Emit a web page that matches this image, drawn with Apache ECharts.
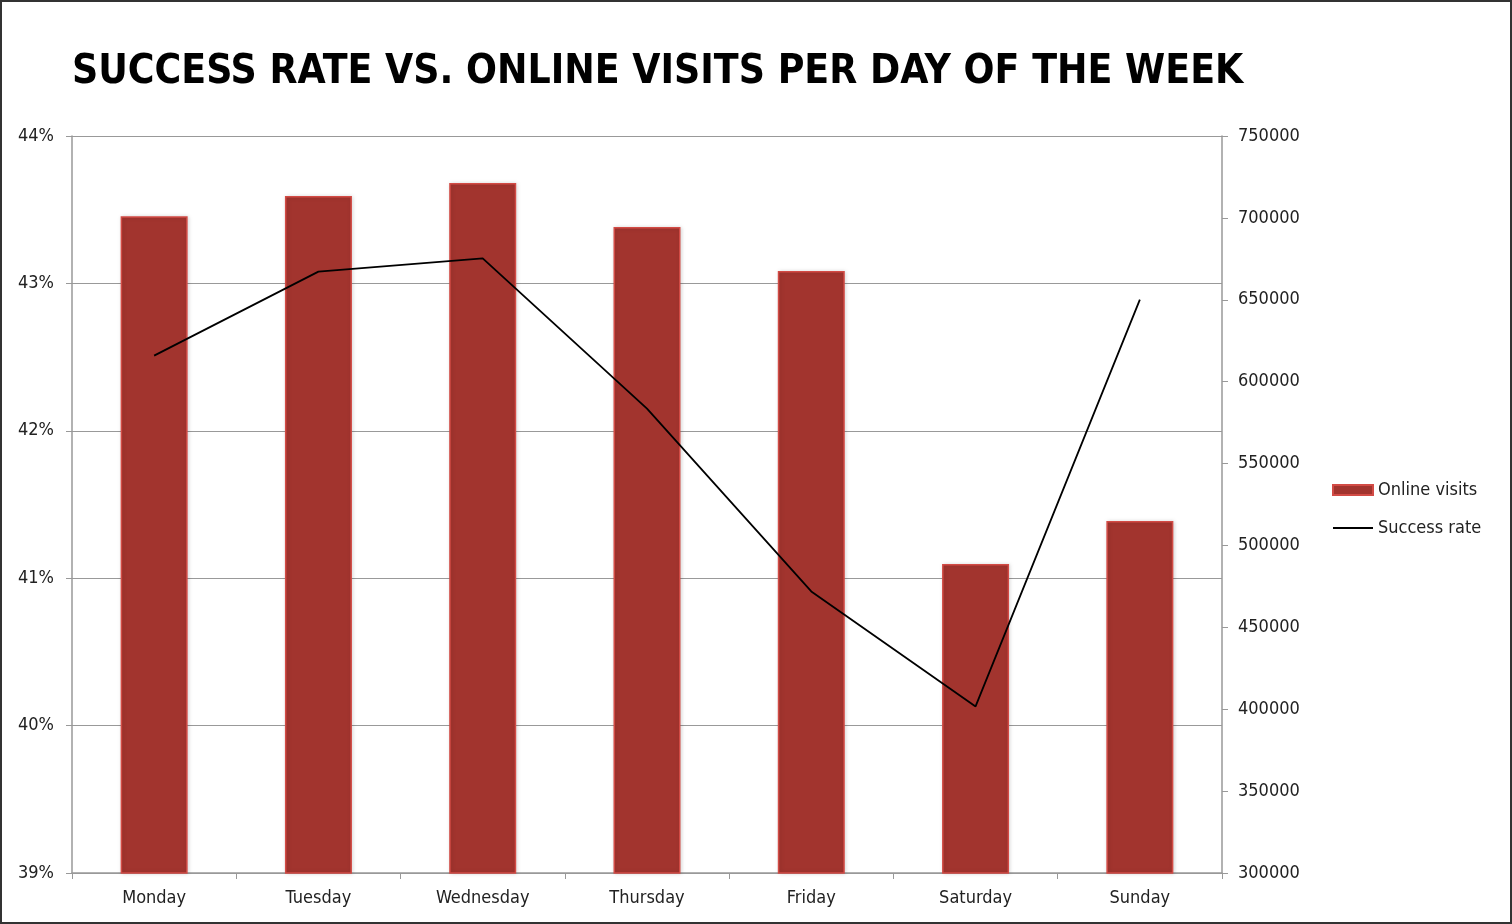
<!DOCTYPE html>
<html><head><meta charset="utf-8">
<script src="https://cdn.jsdelivr.net/npm/echarts@6/dist/echarts.min.js"></script>
<style>
html,body{margin:0;padding:0;background:#fff;}
#wrap{position:absolute;left:0;top:0;width:1512px;height:924px;box-sizing:border-box;border:2px solid #333;}
#c{position:absolute;left:0;top:0;width:1508px;height:920px;}
</style></head>
<body><div id="wrap"><div id="c"></div></div>
<script>
const days = ['Monday','Tuesday','Wednesday','Thursday','Friday','Saturday','Sunday'];
const onlineVisits = [701000, 713400, 721300, 694400, 667600, 488700, 514900];
const successRate = [42.51, 43.08, 43.17, 42.15, 40.91, 40.13, 42.89];
const titleText = 'SUCCESS RATE VS. ONLINE VISITS PER DAY OF THE WEEK';

const chart = echarts.init(document.getElementById('c'));
const lab = {color:'#222', fontFamily:'DejaVu Sans Condensed', fontSize:18};
chart.setOption({
  animation:false,
  title:{text:titleText,left:65,top:45,textStyle:{fontFamily:'DejaVu Sans Condensed',fontWeight:'bold',fontSize:40.5,color:'#000'}},
  grid:{left:70,right:288,top:134,bottom:49,containLabel:false},
  legend:{orient:'vertical',left:1330,top:479,padding:0,itemWidth:40,itemHeight:10,itemGap:20,
    textStyle:lab,
    data:[{name:'Online visits',icon:'rect'},
          {name:'Success rate',icon:'path://M0,0 L40,0 L40,2 L0,2 Z',itemStyle:{color:'#000',borderWidth:0}}]},
  xAxis:{type:'category',data:days,
    axisLine:{lineStyle:{color:'#999',width:1.5}},
    axisTick:{show:true,length:6,lineStyle:{color:'#999'}},
    axisLabel:Object.assign({},lab,{margin:16})},
  yAxis:[
    {type:'value',min:39,max:44,interval:1,position:'left',
     axisLine:{show:true,lineStyle:{color:'#999',width:1.5}},
     axisTick:{show:true,length:6,lineStyle:{color:'#999'}},
     splitLine:{show:true,lineStyle:{color:'#999',width:1.2}},
     axisLabel:Object.assign({},lab,{margin:18,padding:[4,0,0,0],formatter:v=>v+'%'})},
    {type:'value',min:300000,max:750000,interval:50000,position:'right',
     axisLine:{show:true,lineStyle:{color:'#999',width:1.5}},
     axisTick:{show:true,length:6,lineStyle:{color:'#999'}},
     splitLine:{show:false},
     axisLabel:Object.assign({},lab,{margin:16,padding:[4,0,0,0],formatter:v=>String(v)})}
  ],
  series:[
    {name:'Online visits',type:'bar',yAxisIndex:1,data:onlineVisits,barWidth:67,
     itemStyle:{color:'#a2342e',borderColor:'#d24b45',borderWidth:1.5,shadowColor:'rgba(0,0,0,0.15)',shadowBlur:4,shadowOffsetX:1}},
    {name:'Success rate',type:'line',yAxisIndex:0,data:successRate,symbol:'none',
     lineStyle:{color:'#000',width:1.8},itemStyle:{color:'#000'}}
  ]
});
</script></body></html>
